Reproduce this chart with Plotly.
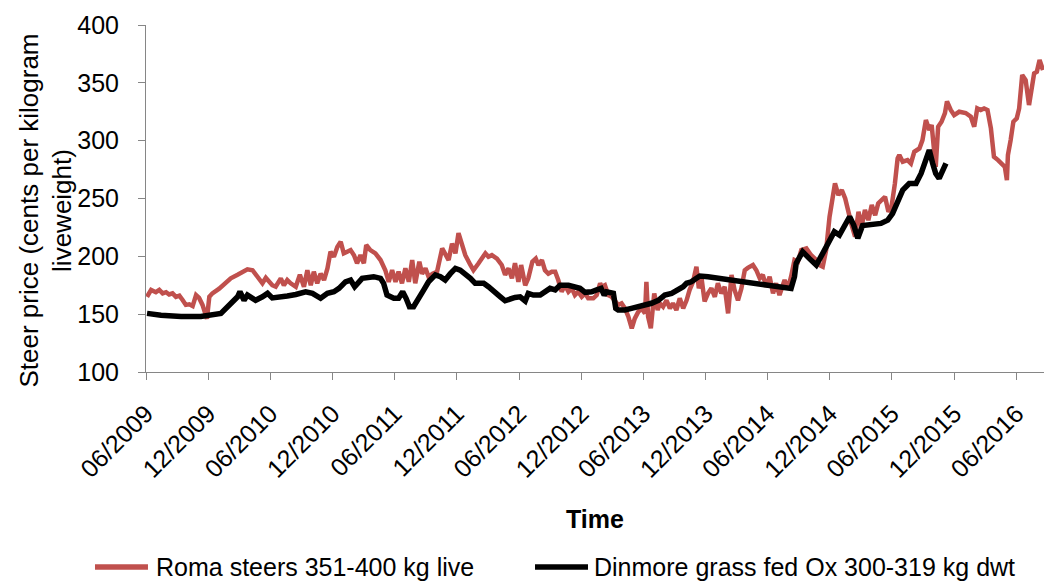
import plotly.graph_objects as go

# ---- Data ----
roma_dates = [
    "2009-06-04","2009-06-16","2009-06-30","2009-07-10","2009-07-20","2009-07-30","2009-08-08","2009-08-18",
    "2009-08-28","2009-09-07","2009-09-17","2009-09-26","2009-10-06","2009-10-16","2009-10-26","2009-11-04",
    "2009-11-14","2009-11-21","2009-11-27","2009-12-04","2009-12-13","2010-01-02","2010-01-21","2010-02-05",
    "2010-02-25","2010-03-16","2010-03-26","2010-04-10","2010-04-19","2010-04-29","2010-05-09","2010-05-19",
    "2010-05-28","2010-06-07","2010-06-17","2010-07-02","2010-07-11","2010-07-21","2010-07-31","2010-08-15",
    "2010-08-27","2010-09-08","2010-09-18","2010-09-28","2010-10-07","2010-10-17","2010-10-27","2010-11-06",
    "2010-11-16","2010-11-25","2010-12-05","2010-12-15","2010-12-25","2011-01-03","2011-01-13","2011-01-23",
    "2011-02-02","2011-02-11","2011-02-21","2011-03-03","2011-03-10","2011-03-22","2011-04-06","2011-04-21",
    "2011-05-05","2011-05-15","2011-05-25","2011-06-04","2011-06-13","2011-06-23","2011-07-03","2011-07-13",
    "2011-07-23","2011-08-01","2011-08-13","2011-08-21","2011-08-31","2011-09-09","2011-09-21","2011-10-04",
    "2011-10-19","2011-10-28","2011-11-07","2011-11-17","2011-11-27","2011-12-06","2011-12-16","2011-12-26",
    "2012-01-10","2012-01-19","2012-02-03","2012-02-13","2012-02-23","2012-03-03","2012-03-13","2012-03-28",
    "2012-04-11","2012-04-21","2012-05-01","2012-05-11","2012-05-20","2012-05-30","2012-06-07","2012-06-19",
    "2012-06-28","2012-07-10","2012-07-20","2012-07-28","2012-08-07","2012-08-16","2012-08-26","2012-09-05",
    "2012-09-15","2012-09-24","2012-10-04","2012-10-14","2012-10-24","2012-11-03","2012-11-12","2012-11-22",
    "2012-12-02","2012-12-12","2012-12-21","2013-01-05","2013-01-15","2013-01-25","2013-01-30","2013-02-08",
    "2013-02-18","2013-02-28","2013-03-10","2013-03-19","2013-03-29","2013-04-08","2013-04-18","2013-04-28",
    "2013-05-07","2013-05-17","2013-05-27","2013-06-06","2013-06-10","2013-06-15","2013-06-23","2013-07-03",
    "2013-07-13","2013-07-19","2013-07-29","2013-08-08","2013-08-18","2013-08-27","2013-09-06","2013-09-16",
    "2013-09-26","2013-10-06","2013-10-15","2013-10-25","2013-11-04","2013-11-11","2013-11-19","2013-11-28",
    "2013-12-08","2013-12-18","2013-12-28","2014-01-06","2014-01-16","2014-01-26","2014-02-05","2014-02-15",
    "2014-02-24","2014-03-06","2014-03-16","2014-03-26","2014-04-04","2014-04-14","2014-04-19","2014-04-29",
    "2014-05-09","2014-05-18","2014-05-28","2014-06-07","2014-06-17","2014-06-26","2014-07-06","2014-07-21",
    "2014-07-31","2014-08-09","2014-08-19","2014-08-29","2014-09-08","2014-09-23","2014-10-07","2014-10-22",
    "2014-10-31","2014-11-10","2014-11-20","2014-11-30","2014-12-09","2014-12-16","2014-12-26","2015-01-05",
    "2015-01-15","2015-01-25","2015-02-03","2015-02-13","2015-02-23","2015-03-04","2015-03-14","2015-03-24",
    "2015-04-03","2015-04-13","2015-04-22","2015-05-02","2015-05-12","2015-05-22","2015-05-31","2015-06-10",
    "2015-06-18","2015-06-23","2015-07-03","2015-07-17","2015-07-27","2015-08-06","2015-08-21","2015-08-30",
    "2015-09-09","2015-09-19","2015-09-26","2015-10-03","2015-10-08","2015-10-15","2015-10-25","2015-11-04",
    "2015-11-10","2015-11-21","2015-12-01","2015-12-16","2016-01-04","2016-01-19","2016-01-29","2016-02-07",
    "2016-02-17","2016-02-27","2016-03-08","2016-03-18","2016-03-27","2016-04-08","2016-04-18","2016-04-28",
    "2016-05-04","2016-05-07","2016-05-15","2016-05-23","2016-06-02","2016-06-09","2016-06-18","2016-06-28",
    "2016-07-08","2016-07-15","2016-07-23","2016-07-31","2016-08-08","2016-08-18",
]
roma_values = [
    165,171,169,171,168,169,167,168,
    165,166,162,158,158.5,157,166.5,164,
    158,152,146,165,168,172,176.6,181,
    184,186.7,188.7,188,184,179.5,176.7,181.5,
    178,175,173.7,181,175,179.5,176.7,173.7,
    184,173.7,188,175,186.7,176.7,185,179.5,
    189.6,204,199.6,208,212.6,202.6,204,205.4,
    201,194,201,194,209.8,205.4,202.6,196.8,
    188,178,188,178,186.7,176.7,189.6,178,
    196.8,176.7,195.3,185,189.6,182.4,185,186.7,
    206.8,201,196.8,211,202.6,220,209.8,201,
    192.5,188,194,198,202.6,199.6,201,198,
    192.5,184,189.6,181,194,178,192.5,175,
    181,195.3,198,192.5,196.8,188,185,186.7,
    186.7,179.5,169.4,175,169.4,172.3,166.5,169.4,
    165,168,163.7,163.7,166.5,176.7,173.7,175,
    166.5,165,162,158,159.4,155,147.8,137.8,
    146.4,152,155,150.7,178,147.8,137.8,168,
    153.6,159.4,156.4,162,155,159.4,153.6,163.7,
    155,162,171,178,191,172.3,181,161,
    168,172.3,165,176.7,168,173.7,150.7,184,
    171,162,172.3,188,190,192.5,192.5,188,
    181,184,173.7,182.4,168,176.7,166.5,179.5,
    172.3,182.4,196.8,195.3,205.4,206.8,201,196.8,
    192.5,191,205.4,234.2,254.4,263,253,257.3,
    250,237,227,217,238.5,225.8,240,231.3,
    244.3,235.6,245.7,248.7,251.5,238.5,242.9,263,
    284.6,287.6,281.8,283.2,280.3,290.4,293.3,300.5,
    317.8,309.2,313.5,291.9,277.4,312.1,316.4,323.9,
    333.9,326.5,322.1,325,323.9,320.7,312.1,327.9,
    326.5,327.9,326.5,310.6,286.1,283.2,280.3,277.4,
    265.9,287.6,300.5,316.4,319.3,327.9,356.7,352.4,
    330.8,346.6,358.2,359.6,369.7,361,
]

dinmore_dates = [
    "2009-06-04","2009-07-15","2009-09-12","2009-11-09","2010-01-07","2010-01-21","2010-02-05","2010-02-25",
    "2010-03-04","2010-03-16","2010-03-26","2010-04-19","2010-05-09","2010-05-24","2010-06-07","2010-07-02",
    "2010-07-21","2010-08-15","2010-09-13","2010-10-03","2010-10-27","2010-11-16","2010-12-05","2010-12-20",
    "2011-01-08","2011-01-23","2011-02-04","2011-02-26","2011-04-01","2011-04-21","2011-04-30","2011-05-10",
    "2011-05-30","2011-06-13","2011-06-25","2011-07-05","2011-07-15","2011-07-27","2011-08-11","2011-08-26",
    "2011-09-09","2011-09-29","2011-10-14","2011-10-28","2011-11-12","2011-11-27","2011-12-11","2011-12-26",
    "2012-01-10","2012-01-24","2012-02-18","2012-03-03","2012-03-18","2012-04-07","2012-04-21","2012-05-06",
    "2012-05-20","2012-06-04","2012-06-19","2012-06-28","2012-07-13","2012-08-02","2012-08-16","2012-08-31",
    "2012-09-15","2012-09-29","2012-10-24","2012-11-07","2012-11-27","2012-12-12","2012-12-31","2013-01-15",
    "2013-01-28","2013-02-06","2013-02-13","2013-03-05","2013-03-12","2013-03-19","2013-04-08","2013-04-27",
    "2013-05-17","2013-06-06","2013-06-25","2013-07-15","2013-08-03","2013-08-23","2013-09-11","2013-09-26",
    "2013-10-06","2013-10-20","2013-11-04","2013-11-14","2013-12-08","2014-01-16","2014-02-24","2014-04-04",
    "2014-06-02","2014-08-09","2014-08-19","2014-08-24","2014-09-12","2014-10-02","2014-10-22","2014-11-10",
    "2014-11-30","2014-12-14","2014-12-29","2015-01-13","2015-01-28","2015-02-09","2015-02-21","2015-03-07",
    "2015-04-01","2015-04-30","2015-05-20","2015-06-03","2015-06-18","2015-07-03","2015-07-22","2015-08-11",
    "2015-08-26","2015-09-09","2015-09-19","2015-09-29","2015-10-08","2015-10-18","2015-10-30","2015-11-07",
]
dinmore_values = [
    150.7,149,148,148,150.7,155,159,165,
    169.4,162,166.5,162,165,168,164,164.5,
    165.7,167,169.4,168,163.7,168,169.4,172.3,
    178,179.5,173.7,181,182.4,181,176.7,166.5,
    163.7,163.7,169.4,163.7,156.4,156.4,165,171,
    178,184,182.4,179.5,185,189.6,188,185,
    181,176.7,176.7,173.7,169.4,165,161.6,163.7,
    164.5,165,161.4,168,166.5,166.5,169.4,172.3,
    171,175,175,173.7,172.3,168.9,169.4,171,
    172.3,166.5,169.4,168,155,153.6,153.6,155,
    156.4,158,159.4,162,166.5,168,171,173.7,
    176.7,178,181,183,182.4,181,179.5,178,
    175,172.3,182.4,194,204,198,192.5,202.6,
    214,221.3,218.4,227,234.2,227,215.6,226.7,
    227,228.5,231.3,237,247,257.3,263,263,
    271.6,283.2,291.9,280.3,271.6,267.3,275.9,280.3,
]

tick_dates = ["2009-06-01","2009-12-01","2010-06-01","2010-12-01","2011-06-01","2011-12-01",
              "2012-06-01","2012-12-01","2013-06-01","2013-12-01","2014-06-01","2014-12-01",
              "2015-06-01","2015-12-01","2016-06-01"]
tick_labels = ["06/2009","12/2009","06/2010","12/2010","06/2011","12/2011","06/2012","12/2012",
               "06/2013","12/2013","06/2014","12/2014","06/2015","12/2015","06/2016"]
y_ticks = [100, 150, 200, 250, 300, 350, 400]

series_names = ["Roma steers 351-400 kg live", "Dinmore grass fed Ox 300-319 kg dwt"]
series_colors = ["#C0504D", "#000000"]

FONT = "Liberation Sans, Arial, sans-serif"
AXIS_COLOR = "#868686"

fig = go.Figure()
fig.add_trace(go.Scatter(x=roma_dates, y=roma_values, mode="lines", name=series_names[0],
                         line=dict(color=series_colors[0], width=4.5), showlegend=False))
fig.add_trace(go.Scatter(x=dinmore_dates, y=dinmore_values, mode="lines", name=series_names[1],
                         line=dict(color=series_colors[1], width=5.5), showlegend=False))

fig.update_layout(
    width=1045, height=585,
    margin=dict(l=146, r=1, t=25, b=213, autoexpand=False),
    paper_bgcolor="white", plot_bgcolor="white",
    font=dict(family=FONT, color="#000000"),
    showlegend=False,
    xaxis=dict(
        type="date", range=["2009-06-01", "2016-08-21"], automargin=False,
        tickmode="array", tickvals=tick_dates, ticktext=tick_labels, tickangle=-45,
        tickfont=dict(size=25, family=FONT), showgrid=False, zeroline=False,
        showline=True, linecolor=AXIS_COLOR, linewidth=1,
        ticks="outside", ticklen=7, tickcolor=AXIS_COLOR, ticklabelstandoff=9,
    ),
    yaxis=dict(
        range=[100, 400], tickvals=y_ticks, automargin=False,
        tickfont=dict(size=25, family=FONT), showgrid=False, zeroline=False,
        showline=True, linecolor=AXIS_COLOR, linewidth=1,
        ticks="outside", ticklen=7, tickcolor=AXIS_COLOR, ticklabelstandoff=14,
    ),
)

# Axis titles
fig.add_annotation(xref="paper", yref="paper", x=0, y=0.5, xanchor="center", yanchor="middle",
                   xshift=-101, yshift=-12, textangle=-90, showarrow=False,
                   text="Steer price (cents per kilogram<br>liveweight)",
                   font=dict(size=26, family=FONT, color="#000000"))
fig.add_annotation(xref="paper", yref="paper", x=0.5, y=-0.4236, xanchor="center", yanchor="middle",
                   showarrow=False, text="<b>Time</b>",
                   font=dict(size=25, family=FONT, color="#000000"))

# Legend (drawn below the plot, Excel style: long line sample + label)
legend_y = -0.562
legend_items = [(-0.0568, 0.0022, 0.0100), (0.4332, 0.4922, 0.4978)]
for (x0, x1, xt), name, color in zip(legend_items, series_names, series_colors):
    fig.add_shape(type="line", xref="paper", yref="paper", x0=x0, x1=x1, y0=legend_y, y1=legend_y,
                  line=dict(color=color, width=5.5))
    fig.add_annotation(xref="paper", yref="paper", x=xt, y=legend_y, xanchor="left", yanchor="middle",
                       showarrow=False, text=name, borderpad=0,
                       font=dict(size=25, family=FONT, color="#000000"))

fig.write_html("out.html")
